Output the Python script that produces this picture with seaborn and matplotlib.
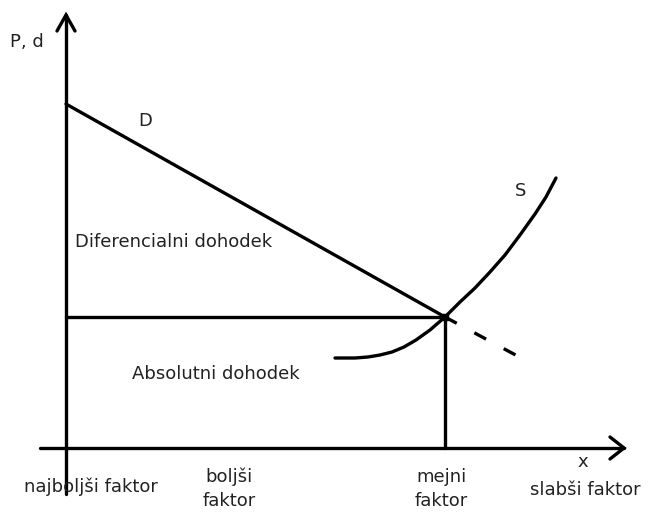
import matplotlib
matplotlib.use("Agg")
import matplotlib.pyplot as plt
import seaborn as sns
import pandas as pd

sns.set_theme(style="white")
plt.rcParams['font.family'] = ['DejaVu Sans']

# Data (drawing coordinates, y grows downward like the picture)
demand_x = [66, 445]
demand_y = [104, 317]
demand_ext_x = [445, 523]
demand_ext_y = [317, 359]
supply_x = [335, 355, 368, 380, 392, 404, 416, 430, 445, 460, 475, 490, 505, 520, 535, 546, 556]
supply_y = [358, 358, 357, 355, 352, 347, 340, 330, 317, 302, 288, 272, 255, 235, 214, 197, 178]
price_level = 317
marginal_x = 445
axis_y = 448
axis_x = 66

fig = plt.figure(figsize=(6.48, 5.13), dpi=100)
ax = fig.add_axes([0, 0, 1, 1])
ax.set_xlim(0, 648)
ax.set_ylim(513, 0)
ax.axis('off')

lw = 2.4
col = 'black'
sup = pd.DataFrame({'x': supply_x, 'y': supply_y})
sns.lineplot(data=sup, x='x', y='y', ax=ax, color=col, lw=lw, sort=False,
             estimator=None, solid_joinstyle='round', solid_capstyle='round')
dem = pd.DataFrame({'x': demand_x, 'y': demand_y})
sns.lineplot(data=dem, x='x', y='y', ax=ax, color=col, lw=lw, estimator=None)
ax.plot(demand_ext_x, demand_ext_y, color=col, lw=lw, dashes=(4, 6))

# axes
ax.plot([axis_x, axis_x], [494, 15], color=col, lw=lw)
ax.plot([57, axis_x, 75], [31, 15, 31], color=col, lw=lw, solid_joinstyle='miter')
ax.plot([40, 624], [axis_y, axis_y], color=col, lw=lw)
ax.plot([610, 624, 610], [437, axis_y, 459], color=col, lw=lw, solid_joinstyle='miter')

# price level and marginal factor lines
ax.plot([axis_x, marginal_x], [price_level, price_level], color=col, lw=lw)
ax.plot([marginal_x, marginal_x], [price_level, axis_y], color=col, lw=lw)
ax.plot([marginal_x], [price_level], 's', color=col, ms=4)

fs = 13
kw = dict(fontsize=fs, color='#222222')
ax.text(10, 42, 'P, d', ha='left', va='center', **kw)
ax.text(138, 121, 'D', ha='left', va='center', **kw)
ax.text(515, 191, 'S', ha='left', va='center', **kw)
ax.text(75, 242, 'Diferencialni dohodek', ha='left', va='center', **kw)
ax.text(132, 374, 'Absolutni dohodek', ha='left', va='center', **kw)
ax.text(583, 462, 'x', ha='center', va='center', **kw)
ax.text(91, 487, 'najboljši faktor', ha='center', va='center', **kw)
ax.text(229, 489, 'boljši\nfaktor', ha='center', va='center', linespacing=1.45, **kw)
ax.text(441, 489, 'mejni\nfaktor', ha='center', va='center', linespacing=1.45, **kw)
ax.text(585, 490, 'slabši faktor', ha='center', va='center', **kw)

fig.savefig('out.png', dpi=100)
